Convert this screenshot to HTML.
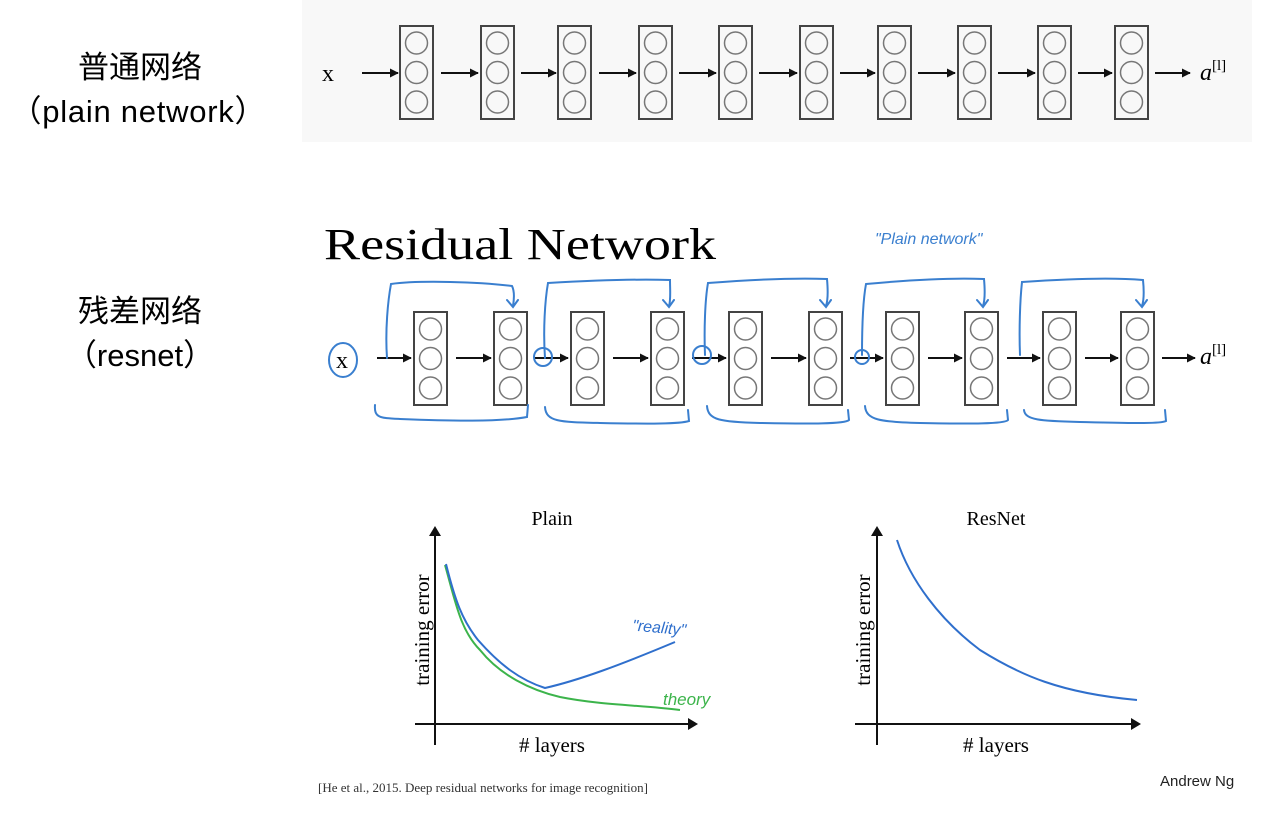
<!DOCTYPE html>
<html><head><meta charset="utf-8"><style>
body{margin:0;background:#fff;width:1261px;height:815px;overflow:hidden}
svg{display:block}
</style></head><body>
<svg width="1261" height="815" viewBox="0 0 1261 815" xmlns="http://www.w3.org/2000/svg">
<defs>
<g id="bx"><rect x="0" y="0" width="33" height="93" fill="none" stroke="#444" stroke-width="2"/>
<g fill="none" stroke="#777" stroke-width="1.5"><circle cx="16.5" cy="17" r="11"/><circle cx="16.5" cy="46.5" r="11"/><circle cx="16.5" cy="76" r="11"/></g></g>
<marker id="ah" viewBox="0 0 10 10" refX="9" refY="5" markerWidth="9" markerHeight="9" orient="auto" markerUnits="userSpaceOnUse"><path d="M0,0L10,5L0,10z" fill="#111"/></marker>
</defs>
<rect x="302" y="0" width="950" height="142" fill="#f8f8f8"/>
<text x="140" y="78" font-family="Liberation Sans, Noto Sans CJK SC, sans-serif" font-size="31" text-anchor="middle">普通网络</text>
<text x="138" y="122" font-family="Liberation Sans, Noto Sans CJK SC, sans-serif" font-size="31" text-anchor="middle" textLength="255">（plain network）</text>
<text x="140" y="322" font-family="Liberation Sans, Noto Sans CJK SC, sans-serif" font-size="31" text-anchor="middle">残差网络</text>
<text x="140" y="366" font-family="Liberation Sans, Noto Sans CJK SC, sans-serif" font-size="31" text-anchor="middle">（resnet）</text>

<!-- plain -->
<text x="322" y="81" font-family="Liberation Serif, serif" font-size="24">x</text>
<g stroke="#111" stroke-width="2" marker-end="url(#ah)">
<line x1="362" y1="73" x2="398" y2="73"/><line x1="441" y1="73" x2="478" y2="73"/><line x1="521" y1="73" x2="556" y2="73"/>
<line x1="599" y1="73" x2="636" y2="73"/><line x1="679" y1="73" x2="716" y2="73"/><line x1="759" y1="73" x2="797" y2="73"/>
<line x1="840" y1="73" x2="875" y2="73"/><line x1="918" y1="73" x2="955" y2="73"/><line x1="998" y1="73" x2="1035" y2="73"/>
<line x1="1078" y1="73" x2="1112" y2="73"/><line x1="1155" y1="73" x2="1190" y2="73"/>
</g>
<use href="#bx" x="400" y="26"/><use href="#bx" x="481" y="26"/><use href="#bx" x="558" y="26"/><use href="#bx" x="639" y="26"/><use href="#bx" x="719" y="26"/>
<use href="#bx" x="800" y="26"/><use href="#bx" x="878" y="26"/><use href="#bx" x="958" y="26"/><use href="#bx" x="1038" y="26"/><use href="#bx" x="1115" y="26"/>
<text x="1200" y="80" font-family="Liberation Serif, serif" font-size="24" font-style="italic">a<tspan font-size="15" dy="-10" font-style="normal">[l]</tspan></text>

<!-- resnet -->
<text x="324" y="259" font-family="Liberation Serif, serif" font-size="44" textLength="392" lengthAdjust="spacingAndGlyphs">Residual Network</text>
<text x="875" y="244" font-family="Liberation Sans, sans-serif" font-size="16" fill="#3a7fcf" font-style="italic">"Plain   network"</text>
<text x="336" y="368" font-family="Liberation Serif, serif" font-size="24">x</text>
<ellipse cx="343" cy="360" rx="14" ry="17" fill="none" stroke="#3a7fcf" stroke-width="2"/>
<g stroke="#111" stroke-width="2" marker-end="url(#ah)">
<line x1="377" y1="358" x2="411" y2="358"/><line x1="456" y1="358" x2="491" y2="358"/><line x1="534" y1="358" x2="568" y2="358"/>
<line x1="613" y1="358" x2="648" y2="358"/><line x1="692" y1="358" x2="726" y2="358"/><line x1="771" y1="358" x2="806" y2="358"/>
<line x1="850" y1="358" x2="883" y2="358"/><line x1="928" y1="358" x2="962" y2="358"/><line x1="1007" y1="358" x2="1040" y2="358"/>
<line x1="1085" y1="358" x2="1118" y2="358"/><line x1="1162" y1="358" x2="1195" y2="358"/>
</g>
<use href="#bx" x="414" y="312"/><use href="#bx" x="494" y="312"/><use href="#bx" x="571" y="312"/><use href="#bx" x="651" y="312"/><use href="#bx" x="729" y="312"/>
<use href="#bx" x="809" y="312"/><use href="#bx" x="886" y="312"/><use href="#bx" x="965" y="312"/><use href="#bx" x="1043" y="312"/><use href="#bx" x="1121" y="312"/>
<text x="1200" y="364" font-family="Liberation Serif, serif" font-size="24" font-style="italic">a<tspan font-size="15" dy="-10" font-style="normal">[l]</tspan></text>
<g fill="none" stroke="#3a7fcf" stroke-width="2" stroke-linecap="round">
<path d="M387,358 C385,330 388,300 391,284 C420,280 480,282 512,286 C515,292 514,300 513,306 M507,300 L513,307 L518,300"/>
<path d="M545,358 C543,330 545,300 548,283 C600,280 640,279 670,280 C670,290 671,300 669,306 M663,300 L669,307 L674,300"/>
<path d="M705,355 C704,330 705,300 708,283 C760,279 800,278 827,279 C828,290 828,300 826,306 M820,300 L826,307 L831,300"/>
<path d="M862,355 C862,330 863,300 866,284 C920,279 960,278 984,279 C985,290 985,300 983,306 M977,300 L983,307 L988,300"/>
<path d="M1020,355 C1019,330 1020,300 1022,282 C1080,278 1120,278 1143,280 C1144,290 1144,300 1142,306 M1136,300 L1142,307 L1147,300"/>
<path d="M375,405 C374,418 380,418 400,419 C450,421 500,422 527,417 L528,405"/>
<path d="M545,407 C546,422 560,422 600,423 C650,424 680,424 689,421 L688,410"/>
<path d="M707,406 C708,420 720,422 760,423 C810,424 845,424 849,420 L848,410"/>
<path d="M865,406 C866,420 880,422 920,423 C970,424 1005,424 1008,420 L1007,410"/>
<path d="M1024,410 C1025,420 1040,421 1080,422 C1130,423 1160,424 1166,421 L1165,410"/>
<circle cx="543" cy="357" r="9"/><circle cx="702" cy="355" r="9"/><circle cx="862" cy="357" r="7"/>
</g>

<!-- Plain chart -->
<text x="552" y="525" font-family="Liberation Serif, serif" font-size="20" text-anchor="middle">Plain</text>
<g stroke="#111" stroke-width="2"><line x1="435" y1="745" x2="435" y2="535"/><line x1="415" y1="724" x2="690" y2="724"/></g>
<path d="M429,536 L435,526 L441,536z M688,718 L698,724 L688,730z" fill="#111"/>
<text transform="translate(429,630) rotate(-90)" font-family="Liberation Serif, serif" font-size="21" text-anchor="middle">training error</text>
<text x="552" y="752" font-family="Liberation Serif, serif" font-size="21" text-anchor="middle"># layers</text>
<path d="M445,565 C455,600 460,630 480,650 C500,675 530,690 560,697 C600,705 640,705 680,710" fill="none" stroke="#3cb44b" stroke-width="2"/>
<path d="M446,564 C455,600 462,620 478,640 C500,665 520,680 545,688 C580,680 620,665 675,642" fill="none" stroke="#2f6fcc" stroke-width="2"/>
<text x="632" y="633" font-family="Liberation Sans, sans-serif" font-size="16" fill="#2f6fcc" font-style="italic" transform="rotate(5 660 630)">"reality"</text>
<text x="663" y="705" font-family="Liberation Sans, sans-serif" font-size="17" fill="#3cb44b" font-style="italic">theory</text>

<!-- ResNet chart -->
<text x="996" y="525" font-family="Liberation Serif, serif" font-size="20" text-anchor="middle">ResNet</text>
<g stroke="#111" stroke-width="2"><line x1="877" y1="745" x2="877" y2="535"/><line x1="855" y1="724" x2="1133" y2="724"/></g>
<path d="M871,536 L877,526 L883,536z M1131,718 L1141,724 L1131,730z" fill="#111"/>
<text transform="translate(870,630) rotate(-90)" font-family="Liberation Serif, serif" font-size="21" text-anchor="middle">training error</text>
<text x="996" y="752" font-family="Liberation Serif, serif" font-size="21" text-anchor="middle"># layers</text>
<path d="M897,540 C910,580 940,620 980,650 C1020,675 1060,693 1137,700" fill="none" stroke="#2f6fcc" stroke-width="2"/>

<text x="318" y="792" font-family="Liberation Serif, serif" font-size="13" fill="#333">[He et al., 2015. Deep residual networks for image recognition]</text>
<text x="1160" y="786" font-family="Liberation Sans, sans-serif" font-size="15" fill="#222">Andrew Ng</text>
</svg>
</body></html>
